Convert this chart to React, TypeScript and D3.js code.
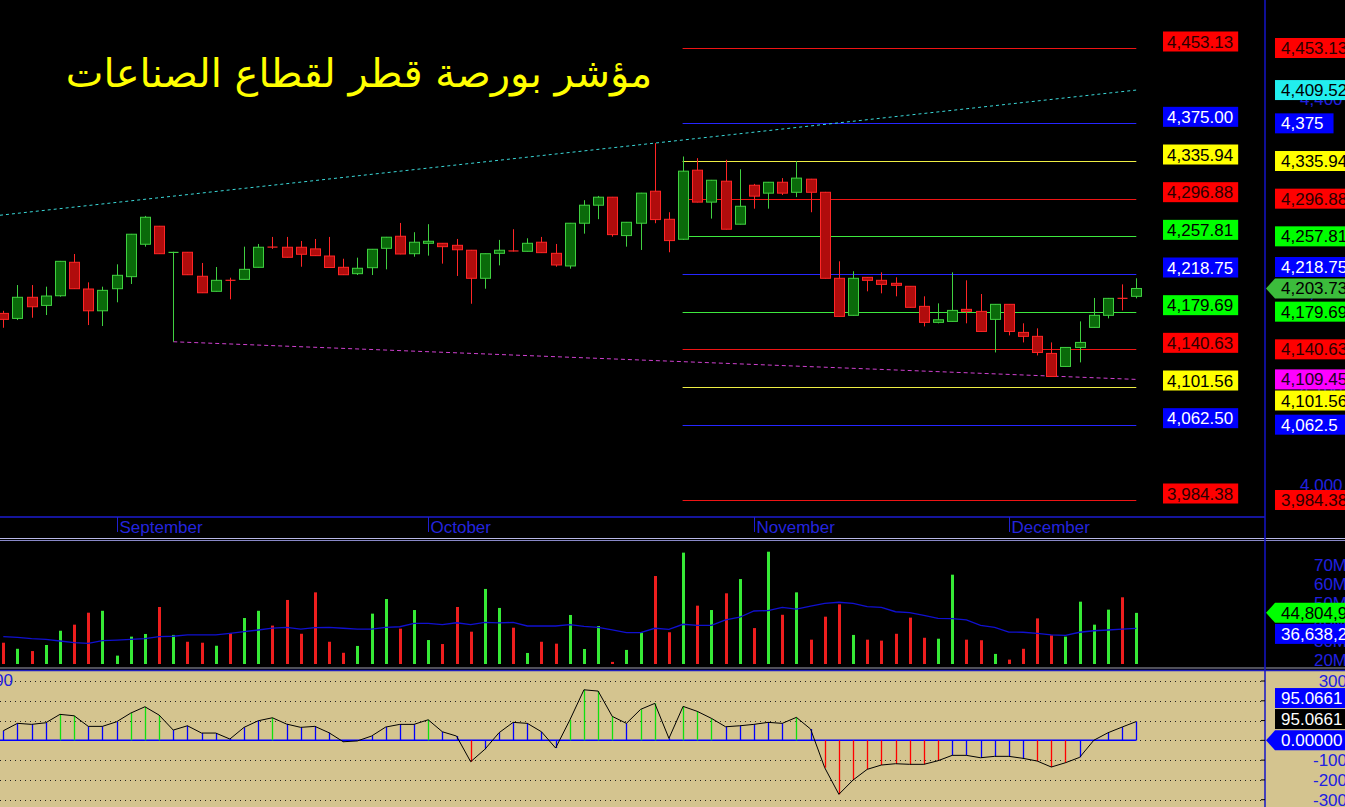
import React from "react";
import * as d3 from "d3";

// ---------------- DATA ----------------
const openP = [4177.9, 4172.7, 4194.6, 4186.2, 4196.2, 4230.9, 4203.2, 4180.6, 4203.5, 4216.0,
  4249.6, 4268.3, 4241.0, 4241.3, 4216.4, 4200.8, 4212.4, 4213.2, 4225.7, 4246.8,
  4246.5, 4246.5, 4244.8, 4237.4, 4225.7, 4219.1, 4225.3, 4245.4, 4257.9, 4239.8,
  4250.6, 4250.6, 4248.5, 4243.4, 4214.3, 4240.2, 4242.9, 4242.3, 4251.7, 4240.2,
  4227.1, 4271.4, 4290.1, 4298.4, 4258.6, 4271.4, 4304.6, 4275.5, 4254.8, 4326.4,
  4293.3, 4315.0, 4270.4, 4310.8, 4302.6, 4313.9, 4303.5, 4317.1, 4303.5, 4214.3,
  4175.9, 4215.3, 4212.2, 4209.1, 4206.0, 4185.2, 4168.6, 4169.6, 4182.1, 4180.0,
  4171.7, 4187.3, 4158.2, 4154.1, 4136.4, 4122.9, 4142.6, 4163.4, 4175.9, 4193.7,
  4195.6];
const highP = [4180.6, 4207.3, 4207.3, 4205.6, 4232.3, 4239.5, 4210.1, 4205.6, 4228.8, 4260.3,
  4279.0, 4268.6, 4241.8, 4241.6, 4230.2, 4226.0, 4214.9, 4247.1, 4249.9, 4257.2,
  4257.2, 4253.0, 4255.1, 4257.2, 4234.6, 4235.7, 4244.7, 4257.2, 4271.7, 4262.1,
  4270.4, 4250.9, 4255.1, 4243.7, 4240.0, 4254.1, 4265.2, 4255.8, 4257.2, 4249.9,
  4271.7, 4295.3, 4299.7, 4298.7, 4272.7, 4302.9, 4354.5, 4282.8, 4340.6, 4338.9,
  4316.3, 4337.2, 4327.4, 4312.2, 4314.2, 4318.2, 4335.7, 4317.4, 4303.9, 4231.9,
  4221.6, 4215.6, 4220.5, 4215.3, 4206.3, 4195.6, 4188.3, 4220.5, 4212.2, 4198.0,
  4187.6, 4187.6, 4167.6, 4162.4, 4147.8, 4142.9, 4169.6, 4193.9, 4193.9, 4208.0,
  4214.3];
const lowP = [4163.0, 4171.0, 4173.4, 4176.2, 4195.2, 4203.2, 4165.8, 4164.8, 4189.4, 4208.4,
  4247.1, 4239.5, 4148.5, 4217.7, 4199.0, 4200.5, 4192.5, 4213.0, 4225.5, 4244.8,
  4235.9, 4226.3, 4237.5, 4225.0, 4217.7, 4217.7, 4217.7, 4223.6, 4239.2, 4236.7,
  4237.8, 4229.5, 4216.7, 4187.9, 4203.5, 4227.7, 4242.1, 4242.1, 4240.6, 4226.3,
  4224.3, 4260.6, 4275.6, 4257.5, 4247.1, 4243.7, 4271.4, 4241.3, 4254.1, 4293.0,
  4276.2, 4265.0, 4270.2, 4286.5, 4286.5, 4300.7, 4298.5, 4282.8, 4214.1, 4174.6,
  4175.7, 4200.8, 4198.7, 4195.6, 4184.0, 4164.4, 4167.6, 4169.4, 4167.6, 4159.0,
  4137.4, 4155.1, 4147.8, 4134.3, 4112.3, 4122.7, 4127.1, 4163.2, 4172.7, 4181.0,
  4193.5];
const closeP = [4171.7, 4194.6, 4184.8, 4195.9, 4231.9, 4203.5, 4180.6, 4201.8, 4217.4, 4260.0,
  4277.6, 4239.8, 4241.3, 4218.0, 4199.3, 4212.2, 4212.0, 4223.6, 4246.5, 4246.5,
  4236.1, 4239.2, 4237.8, 4225.5, 4218.0, 4224.7, 4244.4, 4256.9, 4239.5, 4251.7,
  4252.7, 4247.1, 4243.9, 4214.3, 4239.8, 4243.4, 4242.4, 4250.6, 4240.9, 4228.1,
  4271.4, 4290.1, 4298.4, 4259.6, 4272.4, 4302.6, 4275.2, 4253.4, 4325.4, 4293.3,
  4316.0, 4265.2, 4289.0, 4299.5, 4313.9, 4302.6, 4318.2, 4303.5, 4214.3, 4174.8,
  4214.3, 4212.2, 4208.0, 4207.0, 4184.2, 4168.6, 4171.3, 4181.0, 4180.0, 4159.2,
  4187.3, 4159.2, 4154.1, 4137.4, 4112.5, 4142.6, 4147.8, 4175.9, 4193.5, 4193.3,
  4203.73];

// volume in millions
const volumeM = [29.1, 25.9, 24.7, 27.9, 35.4, 38.6, 44.9, 45.9, 22.3, 32.3,
  33.7, 47.9, 33.2, 29.6, 29.1, 27.5, 34.1, 42.1, 45.9, 38.1,
  51.6, 33.8, 55.6, 29.6, 23.8, 27.4, 44.4, 52.1, 36.5, 46.3,
  30.5, 28.4, 47.9, 34.9, 57.4, 47.4, 37.0, 23.7, 29.6, 28.6,
  43.7, 25.8, 37.9, 19.0, 25.3, 34.4, 64.2, 34.6, 76.5, 48.6,
  46.3, 55.1, 62.6, 36.8, 77.0, 43.8, 55.6, 30.7, 42.8, 49.3,
  33.2, 30.7, 30.2, 33.8, 42.3, 31.7, 31.2, 64.9, 30.7, 30.4,
  23.2, 20.2, 25.9, 41.9, 33.0, 32.3, 50.7, 38.6, 46.5, 53.0,
  44.804912];
const volumeAvgM = [32.3, 31.9, 31.2, 30.9, 30.0, 29.1, 28.8, 30.2, 30.5, 30.9,
  31.2, 32.3, 32.5, 33.2, 33.2, 33.2, 34.0, 34.9, 35.8, 36.8,
  37.2, 36.3, 37.0, 37.2, 36.7, 36.3, 36.3, 37.2, 37.5, 39.3,
  39.3, 38.6, 39.6, 38.6, 39.8, 39.5, 39.8, 37.9, 37.9, 37.9,
  38.6, 37.7, 37.2, 35.8, 34.4, 34.4, 36.7, 36.1, 38.8, 38.2,
  38.2, 41.1, 42.5, 45.8, 46.0, 47.7, 46.8, 48.4, 49.8, 50.4,
  49.8, 48.1, 47.7, 45.4, 44.9, 43.5, 41.9, 41.8, 41.1, 38.2,
  37.2, 34.7, 34.6, 34.0, 33.2, 33.0, 34.6, 35.4, 35.8, 36.3,
  36.63821];

const oscValues = [48.5, 85.9, 80.8, 88.9, 131.3, 124.2, 70.7, 70.7, 93.9, 137.9,
  169.7, 127.8, 52.0, 73.7, 36.9, 36.9, 6.6, 65.7, 99.0, 114.1,
  82.3, 65.7, 70.7, 38.4, -7.0, -3.0, 21.7, 67.2, 80.8, 80.8,
  104.0, 43.4, 21.7, -108.0, -45.5, 38.4, 90.9, 85.9, 43.4, -38.9,
  102.5, 255.6, 249.0, 121.0, 85.9, 156.6, 186.9, 10.0, 171.7, 146.5,
  111.1, 68.7, 73.7, 80.8, 90.9, 85.9, 116.2, 57.1, -138.4, -272.7,
  -200.5, -146.5, -124.7, -118.2, -121.2, -121.2, -103.0, -75.8, -75.8, -87.9,
  -80.8, -80.8, -90.9, -104.5, -134.8, -113.1, -85.9, 0.5, 38.4, 67.2,
  95.0661];

const monthNames = ["September", "October", "November", "December"];
const monthStartIdx = [8, 30, 53, 71];

const levelValues = [4453.13, 4375.0, 4335.94, 4296.88, 4257.81, 4218.75, 4179.69, 4140.63, 4101.56, 4062.5, 3984.38];
const levelColorKeys = ["red", "blue", "yellow", "red", "green", "blue", "green", "red", "yellow", "blue", "red"];
const levelStartIdx = 48;

const upperTrend: [number, number][] = [[46, 4354.5], [80, 4409.52]];
const lowerTrend: [number, number][] = [[12, 4148.5], [80, 4109.45]];

const priceTicks = [4000, 4100, 4200, 4300, 4400];
const volumeTicks = [20, 30, 40, 50, 60, 70];
const oscTicks = [-300, -200, -100, 0, 100, 200, 300];

const titleText = "مؤشر بورصة قطر لقطاع الصناعات";

// ---------------- LAYOUT ----------------
const W = 1345;
const H = 807;
const AXIS_X = 1265;
const FS = 17;
const FONT = "'Liberation Sans', Arial, sans-serif";

const palette: Record<string, { line: string; box: string; text: string }> = {
  red: { line: "#ee1414", box: "#ff0000", text: "#2a0000" },
  blue: { line: "#2626ff", box: "#0000ff", text: "#ffffff" },
  yellow: { line: "#eeee44", box: "#ffff00", text: "#000000" },
  green: { line: "#3ee83e", box: "#00ff00", text: "#000000" },
  cyan: { line: "#3ad8d8", box: "#22eeee", text: "#000000" },
  magenta: { line: "#d040d0", box: "#ff00ff", text: "#200020" },
};

const n = closeP.length;
const xS = d3.scaleLinear().domain([0, n - 1]).range([3.3, 1136.3]);
const yP = d3.scaleLinear().domain([3984.38, 4453.13]).range([500, 48]);
const yV = d3.scaleLinear().domain([20, 70]).range([660, 565]);
const yO = d3.scaleLinear().domain([-300, 300]).range([799.7, 681]);

const fmtLevel = d3.format(",.2f");
const fmtAxis = d3.format(",.2~f");
const fmtInt = d3.format(",");

function textW(s: string, fs: number) {
  let w = 0;
  for (const ch of s) {
    if (ch >= "0" && ch <= "9") w += 0.556;
    else if (ch === "," || ch === ".") w += 0.278;
    else if (ch === "-") w += 0.333;
    else if (ch === "M") w += 0.833;
    else w += 0.556;
  }
  return w * fs;
}

type Lbl = { y: number; text: string; box: string; color: string; tag?: boolean };

function placeLabels(items: Lbl[], h = 21): Lbl[] {
  const placed: Lbl[] = [];
  for (const it of items) {
    const ok = (y: number) => placed.every((p) => Math.abs(p.y - y) >= h);
    let y = it.y;
    if (!ok(y)) {
      for (let d = 0.5; d < 300; d += 0.5) {
        if (ok(it.y - d)) { y = it.y - d; break; }
        if (ok(it.y + d)) { y = it.y + d; break; }
      }
    }
    placed.push({ ...it, y });
  }
  return placed;
}

function trendAt(t: [number, number][], i: number) {
  const [[i0, v0], [i1, v1]] = t;
  return v0 + ((v1 - v0) * (i - i0)) / (i1 - i0);
}

function RightLabel({ l }: { l: Lbl }) {
  const x0 = 1275;
  const w = textW(l.text, FS) + 16;
  const top = l.y - 10;
  return (
    <g>
      {l.tag ? (
        <polygon points={`${AXIS_X + 1},${l.y} ${x0},${top} ${x0 + w},${top} ${x0 + w},${top + 20} ${x0},${top + 20}`} fill={l.box} />
      ) : (
        <rect x={x0} y={top} width={w} height={20} fill={l.box} />
      )}
      <text x={x0 + 6} y={l.y + 6} fill={l.color} fontSize={FS} fontFamily={FONT}>{l.text}</text>
    </g>
  );
}

export default function App() {
  const idx = d3.range(n);
  const lastClose = closeP[n - 1];

  const priceLabels = placeLabels([
    { y: yP(lastClose), text: fmtAxis(lastClose), box: "#3cbc3c", color: "#000", tag: true },
    { y: yP(lowerTrend[1][1]), text: fmtAxis(lowerTrend[1][1]), box: palette.magenta.box, color: palette.magenta.text },
    { y: yP(upperTrend[1][1]), text: fmtAxis(upperTrend[1][1]), box: palette.cyan.box, color: palette.cyan.text },
    ...levelValues.map((v, k) => ({ y: yP(v), text: fmtAxis(v), box: palette[levelColorKeys[k]].box, color: palette[levelColorKeys[k]].text })),
  ]);

  const lastVol = volumeM[n - 1];
  const lastAvg = volumeAvgM[n - 1];
  const volLabels = placeLabels([
    { y: yV(lastVol), text: fmtInt(Math.round(lastVol * 1e6)), box: "#00ff00", color: "#000", tag: true },
    { y: yV(lastAvg), text: fmtInt(Math.round(lastAvg * 1e6)), box: "#0000ff", color: "#fff" },
  ]);

  const lastOsc = oscValues[n - 1];
  const oscLabels = placeLabels([
    { y: yO(0), text: "0.00000", box: "#0000ff", color: "#fff", tag: true },
    { y: yO(lastOsc), text: lastOsc.toFixed(4), box: "#000000", color: "#fff" },
    { y: yO(lastOsc), text: lastOsc.toFixed(4), box: "#0000ff", color: "#fff" },
  ]);

  const upStart = xS.invert(0);
  const volLine = d3.line<number>().x((_, i) => xS(i)).y((v) => yV(v));
  const oscLine = d3.line<number>().x((_, i) => xS(i)).y((v) => yO(v));

  const lvlX0 = xS(levelStartIdx) - 0.5;
  const lvlX1 = xS(n - 1);

  return (
    <svg width={W} height={H} style={{ position: "absolute", left: 0, top: 0, display: "block", background: "#000" }}>
      <rect x={0} y={0} width={W} height={H} fill="#000" />
      <rect x={0} y={670} width={W} height={H - 670} fill="#d4c48f" />

      {/* title */}
      <text x={359} y={87} textAnchor="middle" fill="#ffff00" fontSize={40} fontFamily="'DejaVu Sans', sans-serif" direction="rtl">{titleText}</text>

      {/* level lines */}
      {levelValues.map((v, k) => (
        <line key={"lv" + k} x1={lvlX0} x2={lvlX1} y1={Math.round(yP(v)) + 0.5} y2={Math.round(yP(v)) + 0.5} stroke={palette[levelColorKeys[k]].line} strokeWidth={1} />
      ))}

      {/* trend lines */}
      <line x1={0} y1={yP(trendAt(upperTrend, upStart))} x2={xS(upperTrend[1][0])} y2={yP(upperTrend[1][1])} stroke={palette.cyan.line} strokeWidth={1} strokeDasharray="3,3" />
      <line x1={xS(lowerTrend[0][0])} y1={yP(lowerTrend[0][1])} x2={xS(lowerTrend[1][0])} y2={yP(lowerTrend[1][1])} stroke={palette.magenta.line} strokeWidth={1} strokeDasharray="4,3" />

      {/* candles */}
      {idx.map((i) => {
        const o = openP[i], c = closeP[i], hi = highP[i], lo = lowP[i];
        const up = c >= o;
        const x = Math.round(xS(i)) + 0.5;
        const stroke = up ? "#40d040" : "#ff2626";
        const fill = up ? "#0a6a0a" : "#b00c0c";
        const yt = yP(Math.max(o, c));
        const yb = yP(Math.min(o, c));
        const bh = Math.max(0.001, yb - yt);
        return (
          <g key={"c" + i}>
            <line x1={x} x2={x} y1={yP(hi)} y2={yP(lo)} stroke={stroke} strokeWidth={1} />
            {bh < 2 ? (
              <line x1={x - 5} x2={x + 5} y1={(yt + yb) / 2} y2={(yt + yb) / 2} stroke={stroke} strokeWidth={1.2} />
            ) : (
              <rect x={x - 5} y={yt} width={10} height={bh} fill={fill} stroke={stroke} strokeWidth={1} />
            )}
          </g>
        );
      })}

      {/* inner level labels */}
      {levelValues.map((v, k) => {
        const t = fmtLevel(v);
        const w = textW(t, FS) + 9;
        const yc = yP(v) - 6.5;
        return (
          <g key={"il" + k}>
            <rect x={1163} y={yc - 10} width={w} height={20} fill={palette[levelColorKeys[k]].box} />
            <text x={1167} y={yc + 6} fill={palette[levelColorKeys[k]].text} fontSize={FS} fontFamily={FONT}>{t}</text>
          </g>
        );
      })}

      {/* price panel bottom + month axis */}
      <line x1={0} x2={AXIS_X} y1={517} y2={517} stroke="#1c1cd0" strokeWidth={1.5} />
      {monthNames.map((m, k) => {
        const x = Math.round(xS(monthStartIdx[k])) + 0.5;
        return (
          <g key={"m" + k}>
            <line x1={x} x2={x} y1={517} y2={532} stroke="#2020d0" strokeWidth={1} />
            <text x={x + 2} y={533} fill="#2424dc" fontSize={17} fontFamily={FONT}>{m}</text>
          </g>
        );
      })}
      <line x1={0} x2={W} y1={538.5} y2={538.5} stroke="#b8b8e8" strokeWidth={1} />
      <line x1={0} x2={W} y1={540.5} y2={540.5} stroke="#8888c8" strokeWidth={1} />

      {/* volume */}
      {idx.map((i) => {
        const up = closeP[i] >= openP[i];
        const x = Math.round(xS(i));
        return <rect key={"v" + i} x={x - 1} y={yV(volumeM[i])} width={3} height={664 - yV(volumeM[i])} fill={up ? "#36ea36" : "#ee1e1e"} />;
      })}
      <path d={volLine(volumeAvgM) || ""} fill="none" stroke="#1010d0" strokeWidth={1.3} />
      <line x1={0} x2={W} y1={668} y2={668} stroke="#a0a0b0" strokeWidth={1} />
      <line x1={0} x2={W} y1={670.5} y2={670.5} stroke="#2020c0" strokeWidth={1.5} />

      {/* oscillator */}
      {oscTicks.map((t) => (
        <line key={"og" + t} x1={0} x2={AXIS_X} y1={Math.round(yO(t)) + 0.5} y2={Math.round(yO(t)) + 0.5} stroke="#222" strokeWidth={1} strokeDasharray="1,4" />
      ))}
      <line x1={0} x2={xS(n - 1)} y1={yO(0)} y2={yO(0)} stroke="#0000ff" strokeWidth={1.5} />
      {idx.map((i) => {
        const v = oscValues[i];
        const col = v > 100 ? "#10e010" : v < -100 ? "#ff0000" : "#0000ff";
        const x = Math.round(xS(i)) + 0.5;
        return <line key={"oh" + i} x1={x} x2={x} y1={yO(0)} y2={yO(v)} stroke={col} strokeWidth={1.3} />;
      })}
      <path d={oscLine(oscValues) || ""} fill="none" stroke="#000" strokeWidth={1} />
      <text x={13} y={686} textAnchor="end" fill="#2020e0" fontSize={FS} fontFamily={FONT}>300</text>

      {/* right axis */}
      <line x1={AXIS_X} x2={AXIS_X} y1={0} y2={H} stroke="#1414c8" strokeWidth={1.5} />
      {priceTicks.map((t) => (
        <text key={"pt" + t} x={1300} y={yP(t) + 6} fill="#2020e0" fontSize={FS} fontFamily={FONT}>{fmtInt(t)}</text>
      ))}
      {priceLabels.map((l, k) => <RightLabel key={"pl" + k} l={l} />)}

      {volumeTicks.map((t) => (
        <text key={"vt" + t} x={1347} y={yV(t) + 6} textAnchor="end" fill="#2020e0" fontSize={FS} fontFamily={FONT}>{t + "M"}</text>
      ))}
      {volLabels.map((l, k) => <RightLabel key={"vl" + k} l={l} />)}

      {oscTicks.map((t) => (
        <g key={"ot" + t}>
          <line x1={AXIS_X - 4} x2={AXIS_X} y1={yO(t)} y2={yO(t)} stroke="#000" strokeWidth={1} />
          <text x={1347} y={yO(t) + 6} textAnchor="end" fill="#2020e0" fontSize={FS} fontFamily={FONT}>{t}</text>
        </g>
      ))}
      {oscLabels.map((l, k) => <RightLabel key={"ol" + k} l={l} />)}
    </svg>
  );
}
